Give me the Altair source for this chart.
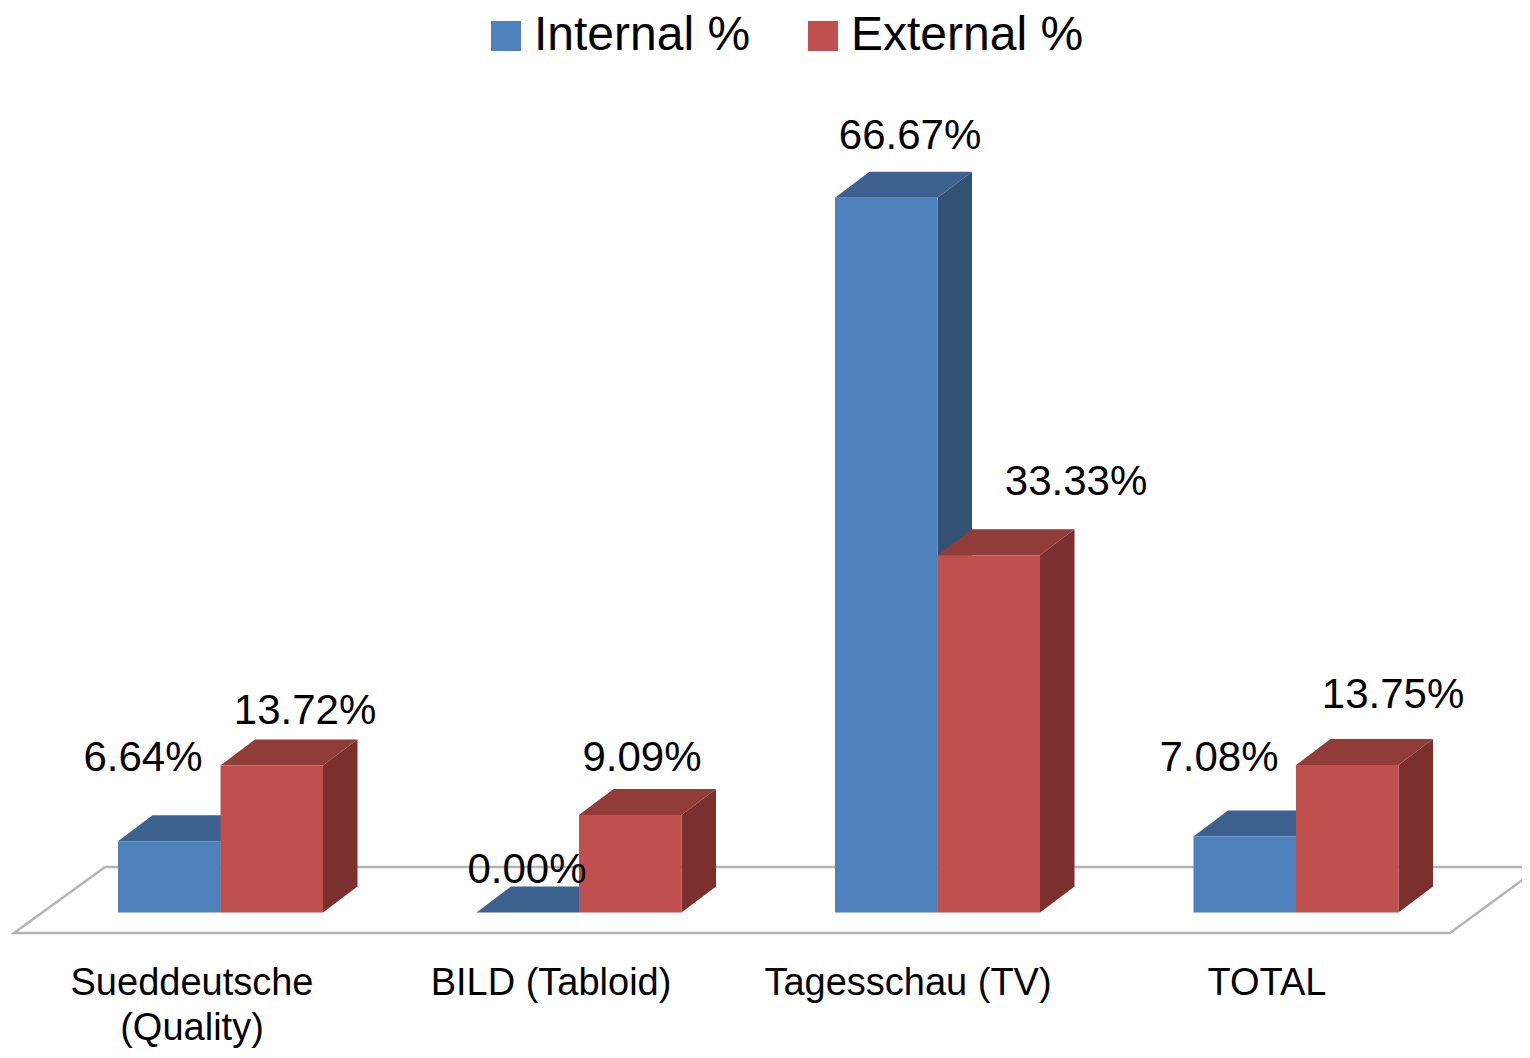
import altair as alt
import pandas as pd

# Chart values
categories = ["Sueddeutsche\n(Quality)", "BILD (Tabloid)", "Tagesschau (TV)", "TOTAL"]
internal = [6.64, 0.00, 66.67, 7.08]
external = [13.72, 9.09, 33.33, 13.75]
series_names = ["Internal %", "External %"]
series_colors = ["#4f81bd", "#c0504d"]
top_colors = ["#3c618e", "#913c39"]
side_colors = ["#325173", "#7b302e"]

# Label anchors (page pixels), hand placed in the original
internal_label_x = [143, 527, 910, 1219]
internal_label_y = [771, 883, 149, 771]
external_label_x = [305, 642, 1076, 1393]
external_label_y = [724, 771, 495, 708]
category_label_x = [192, 551, 908, 1267]
category_label_y = 984

# Oblique projection, in pixels
PX_PER_GROUP, PX_PER_PCT = 358.5, 10.72
FIRST_X, BASE_Y = 220.5, 912.5
BAR_W, DEPTH_X, DEPTH_Y = 102.5, 34.5, 26
W, H = 1514, 1036

ux = lambda px: (px - FIRST_X) / PX_PER_GROUP
uy = lambda py: (BASE_Y - py) / PX_PER_PCT
bw, dx, dy = BAR_W / PX_PER_GROUP, DEPTH_X / PX_PER_GROUP, DEPTH_Y / PX_PER_PCT

xs = alt.Scale(domain=[ux(8), ux(8 + W)], nice=False, zero=False, padding=0)
ys = alt.Scale(domain=[uy(8 + H), uy(8)], nice=False, zero=False, padding=0)
X = lambda f: alt.X(f, type="quantitative", scale=xs, axis=None)
Y = lambda f: alt.Y(f, type="quantitative", scale=ys, axis=None)

front, side, top = [], [], []
for s, (name, vals) in enumerate(zip(series_names, [internal, external])):
    for g, v in enumerate(vals):
        x0 = g + (s - 1) * bw
        x1 = x0 + bw
        bar = f"{s}-{g}"
        front.append(dict(series=name, s=s, x0=x0, x1=x1, v=v, base=0))
        side.append(dict(s=s, bar=bar, x=x1, hi=v, lo=0))
        side.append(dict(s=s, bar=bar, x=x1 + dx, hi=v + dy, lo=dy))
        top.append(dict(s=s, bar=bar, y=v, a=x0, b=x1))
        top.append(dict(s=s, bar=bar, y=v + dy, a=x0 + dx, b=x1 + dx))
front, side, top = map(pd.DataFrame, (front, side, top))

# Floor outline
floor_px = [(105, 867), (14, 933), (1450, 933), (1540, 867), (105, 867)]
floor = pd.DataFrame([dict(i=i, x=ux(p[0]), y=uy(p[1])) for i, p in enumerate(floor_px)])
floor_layer = alt.Chart(floor).mark_line(color="#b4b4b4", strokeWidth=2.5, clip=True).encode(
    x=X("x"), y=Y("y"), order="i:Q")

layers = [floor_layer]
for s in (0, 1):
    layers.append(alt.Chart(side[side.s == s]).mark_area(color=side_colors[s], orient="vertical").encode(
        x=X("x"), y=Y("hi"), y2="lo:Q", detail="bar:N"))
    layers.append(alt.Chart(top[top.s == s]).mark_area(color=top_colors[s], orient="horizontal").encode(
        y=Y("y"), x=X("a"), x2="b:Q", detail="bar:N"))
    layers.append(alt.Chart(front[front.s == s]).mark_bar().encode(
        x=X("x0"), x2="x1:Q", y=Y("v"), y2="base:Q",
        color=alt.Color("series:N", scale=alt.Scale(domain=series_names, range=series_colors),
                        legend=alt.Legend(
                            title=None, orient="none", legendX=474, legendY=4, direction="horizontal",
                            columns=2, columnPadding=48, symbolType="square", symbolSize=900,
                            symbolStrokeWidth=0, symbolOffset=0, labelFont="Liberation Sans", labelFontSize=48,
                            labelColor="#000000", labelOffset=4, labelLimit=400, symbolOpacity=1))))

value_labels = pd.DataFrame({
    "x": [ux(p) for p in internal_label_x + external_label_x],
    "y": [uy(p) for p in internal_label_y + external_label_y],
    "t": [f"{v:.2f}%" for v in internal + external],
})
layers.append(alt.Chart(value_labels).mark_text(
    font="Liberation Sans", fontSize=42, color="#000000", baseline="alphabetic", align="center"
).encode(x=X("x"), y=Y("y"), text="t:N"))

cat_labels = pd.DataFrame({
    "x": [ux(p) for p in category_label_x],
    "y": [uy(category_label_y)] * 4,
    "t": categories,
})
layers.append(alt.Chart(cat_labels).mark_text(
    font="Liberation Sans", fontSize=38, color="#000000", baseline="middle", align="center",
    lineBreak="\n", lineHeight=45
).encode(x=X("x"), y=Y("y"), text="t:N"))

chart = alt.layer(*layers).properties(width=W, height=H, padding=0, background="#ffffff").configure_view(stroke=None)
chart.save("out.html", embed_options={"renderer": "svg", "actions": False})
